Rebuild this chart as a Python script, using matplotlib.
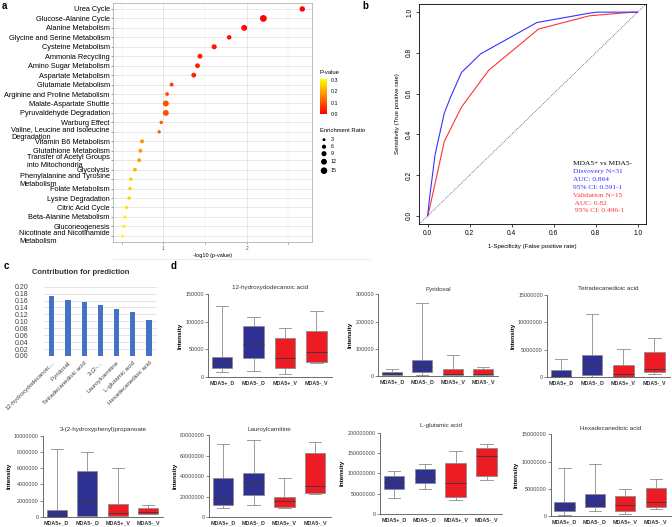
import numpy as np
import matplotlib.pyplot as plt
from matplotlib.colors import LinearSegmentedColormap, Normalize
from matplotlib.ticker import FuncFormatter

W, H = 672, 527
plt.rcParams['font.family'] = ['Liberation Sans', 'DejaVu Sans']

# ---- panel a: pathway enrichment ----
pathways = ["Urea Cycle", "Glucose-Alanine Cycle", "Alanine Metabolism",
            "Glycine and Serine Metabolism", "Cysteine Metabolism", "Ammonia Recycling",
            "Amino Sugar Metabolism", "Aspartate Metabolism", "Glutamate Metabolism",
            "Arginine and Proline Metabolism", "Malate-Aspartate Shuttle",
            "Pyruvaldehyde Degradation", "Warburg Effect",
            "Valine, Leucine and Isoleucine\nDegradation", "Vitamin B6 Metabolism",
            "Glutathione Metabolism", "Transfer of Acetyl Groups\ninto Mitochondria",
            "Glycolysis", "Phenylalanine and Tyrosine\nMetabolism", "Folate Metabolism",
            "Lysine Degradation", "Citric Acid Cycle", "Beta-Alanine Metabolism",
            "Gluconeogenesis", "Nicotinate and Nicotinamide\nMetabolism"]
neglog_p = [2.667, 2.20, 1.97, 1.79, 1.61, 1.44, 1.41, 1.365, 1.10, 1.045, 1.03, 1.03,
            0.975, 0.95, 0.745, 0.725, 0.71, 0.66, 0.61, 0.60, 0.59, 0.56, 0.54, 0.53, 0.51]
enrich = [10, 16, 12, 7, 9, 8.5, 8, 8, 5.5, 5, 12, 12, 4, 4, 5.5, 5.5, 5.5, 5, 4, 4, 4,
          4, 3.5, 3.5, 3]
size_legend = [3, 6, 9, 12, 15]

# ---- panel b: ROC ----
disc_fpr = [0, 0.008, 0.035, 0.079, 0.107, 0.161, 0.252, 0.52, 0.77, 0.81, 1.0]
disc_tpr = [0, 0.08, 0.30, 0.504, 0.578, 0.704, 0.795, 0.949, 0.995, 1.0, 1.0]
val_fpr = [0, 0.011, 0.079, 0.161, 0.29, 0.528, 0.77, 0.976, 1.0]
val_tpr = [0, 0.046, 0.365, 0.534, 0.714, 0.917, 0.982, 1.0, 1.0]
roc_text = ["MDA5+ vs MDA5-", "Disvovery N=31", "AUC: 0.864", "95% CI: 0.591-1",
            "Validation N=15", " AUC: 0.82", " 95% CI: 0.496-1"]
roc_text_col = ["black", "#3333FF", "#3333FF", "#3333FF", "#FF3333", "#FF3333", "#FF3333"]

# ---- panel c: contribution ----
features = ["12-hydroxydodecanoic...", "Pyridoxal", "Tetradecanedioic acid", "3-(2-...",
            "Lauroylcarnitine", "L-glutamic acid", "Hexadecanedioic acid"]
contrib = [0.173, 0.162, 0.156, 0.148, 0.135, 0.128, 0.103]

# ---- panel d: box plots, each row = [low, q1, median, q3, high] ----
groups = ["MDA5+_D", "MDA5-_D", "MDA5+_V", "MDA5-_V"]
hydroxydodecanoic = [[7900, 15200, 24900, 35800, 128700], [9700, 33400, 58900, 92900, 108100],
                     [4250, 15800, 33400, 70400, 88100], [24300, 26700, 44900, 82600, 119000]]
pyridoxal = [[500, 2400, 7300, 13500, 25700], [4900, 13500, 31800, 58800, 267000],
             [1000, 2400, 6100, 24500, 77100], [2400, 3700, 7300, 25700, 34300]]
tetradecanedioic = [[0, 60000, 300000, 1400000, 3280000], [120000, 430000, 2190000, 4000000, 11480000],
                    [60000, 120000, 550000, 2190000, 5220000], [550000, 970000, 1520000, 4550000, 7230000]]
hydroxyphenyl = [[0, 40000, 250000, 860000, 8400000], [40000, 120000, 1970000, 5610000, 7950000],
                 [40000, 80000, 490000, 1640000, 5980000], [330000, 410000, 660000, 1110000, 1520000]]
lauroylcarnitine = [[8.5e6, 11.4e6, 17.3e6, 37.9e6, 71.2e6], [12.1e6, 21.6e6, 34.6e6, 43.4e6, 75.4e6],
                    [8.5e6, 9.5e6, 15.3e6, 19.3e6, 38.5e6], [22.9e6, 23.8e6, 30.0e6, 63.0e6, 73.1e6]]
glutamic = [[38.5e6, 62.3e6, 77.9e6, 93.4e6, 107e6], [62.3e6, 77.0e6, 85.2e6, 110e6, 122e6],
            [34.4e6, 41e6, 75.4e6, 124.6e6, 154e6], [82.8e6, 92.6e6, 141.8e6, 163e6, 171e6]]
hexadecanedioic = [[0.30e6, 1.04e6, 1.77e6, 2.56e6, 8.78e6], [0.98e6, 1.71e6, 2.56e6, 4.15e6, 9.51e6],
                   [0.37e6, 0.91e6, 2.01e6, 3.72e6, 4.94e6], [1.34e6, 1.77e6, 2.56e6, 5.24e6, 6.77e6]]

fig = plt.figure(figsize=(W / 100, H / 100), dpi=100)


def px_axes(x0, y0, x1, y1):
    return fig.add_axes([x0 / W, 1 - y1 / H, (x1 - x0) / W, (y1 - y0) / H])


# overlay in pixel coordinates for free text and legends, kept on top
ov = px_axes(0, 0, W, H)
ov.set_xlim(0, W)
ov.set_ylim(H, 0)
ov.axis('off')
ov.set_zorder(10)

# panel a
cmap = LinearSegmentedColormap.from_list('ry', ['#FF0000', '#FF8000', '#FFFF00'])
norm = Normalize(0, 0.31)
pvals = 10 ** (-np.array(neglog_p))
rows = np.arange(len(pathways))
axa = px_axes(113.3, 3.3, 311.7, 241.5)
axa.set_xlim(0.40, 2.78)
axa.set_ylim(len(pathways) - 0.4, -0.6)
axa.set_xticks([1, 2])
axa.set_xticks([0.5, 1.5, 2.5], minor=True)
axa.set_yticks(rows)
axa.set_yticklabels(pathways)
for lab in axa.get_yticklabels():
    lab.set_multialignment('left')
axa.grid(which='major', color='#DEDEDE', lw=0.5)
axa.grid(which='minor', axis='x', color='#EBEBEB', lw=0.35)
axa.set_axisbelow(True)
axa.scatter(neglog_p, rows, s=np.array(enrich) * 1.5, c=pvals, cmap=cmap, norm=norm,
            edgecolors='none', zorder=3)
for s in axa.spines.values():
    s.set_color('#B3B3B3')
    s.set_linewidth(0.6)
axa.tick_params(axis='y', labelsize=5.3, length=1.5, width=0.4, color='#555555', pad=1)
axa.tick_params(axis='x', which='both', labelsize=3.5, length=1.5, width=0.4,
                color='#555555', labelcolor='#4D4D4D', pad=1.5)
axa.set_xlabel("-log10 (p-value)", fontsize=4, labelpad=2)

# colour legend
cax = px_axes(320, 79, 327, 114)
grad = np.linspace(0, 0.31, 100).reshape(-1, 1)
cax.imshow(grad, cmap=cmap, norm=norm, aspect='auto', origin='lower', extent=[0, 1, 0, 0.31])
cax.set_xticks([])
cax.yaxis.tick_right()
cax.set_yticks([0, 0.1, 0.2, 0.3])
cax.set_yticklabels(["0.0", "0.1", "0.2", "0.3"])
cax.tick_params(axis='y', labelsize=3.8, length=1.5, width=0.4, color='white', pad=1.5)
for s in cax.spines.values():
    s.set_visible(False)
ov.text(320, 72.5, "P-value", fontsize=4.2, va='center')
ov.text(320, 130, "Enrichment Ratio", fontsize=4.2, va='center')
leg_y = [139.7, 146.7, 153.7, 161.7, 170.7]
ov.scatter([324] * 5, leg_y, s=np.array(size_legend) * 1.5, color='black', edgecolors='none')
for yy, r in zip(leg_y, size_legend):
    ov.text(331, yy, str(r), fontsize=3.8, va='center')
ov.plot([113, 370], [259.3, 259.3], color='#E8E8E8', lw=0.6)

# panel b
axb = px_axes(419.3, 4, 646, 224)
axb.set_xlim(-0.04, 1.04)
axb.set_ylim(-0.04, 1.04)
axb.axline((0, 0), (1, 1), color='#333333', lw=0.5, ls=(0, (1.2, 1.5)))
axb.plot(val_fpr, val_tpr, color='#FF3333', lw=0.8)
axb.plot(disc_fpr, disc_tpr, color='#3333FF', lw=0.8)
ticks = np.arange(0, 1.01, 0.2)
axb.set_xticks(ticks)
axb.set_yticks(ticks)
axb.set_xticklabels([f"{t:.1f}" for t in ticks])
axb.set_yticklabels([f"{t:.1f}" for t in ticks], rotation=90, va='center')
axb.tick_params(labelsize=4.8, length=2.5, width=0.5, pad=2)
for s in axb.spines.values():
    s.set_linewidth(0.6)
axb.set_xlabel("1-Specificity (False positive rate)", fontsize=4.4, labelpad=5)
axb.set_ylabel("Sensitivity (True positive rate)", fontsize=4.4, labelpad=4)
for i, (t, c) in enumerate(zip(roc_text, roc_text_col)):
    ov.text(573, 163.3 + i * 7.95, t, color=c, fontsize=5.3, va='center',
            family=['Liberation Serif', 'DejaVu Serif'])

# panel c
axc = px_axes(43.6, 286.7, 157.1, 356)
xc = np.arange(len(features))
axc.bar(xc, contrib, width=0.32, color='#4472C4', zorder=3)
axc.set_xlim(-0.5, len(features) - 0.5)
axc.set_ylim(0, 0.2)
axc.set_yticks(np.arange(0, 0.201, 0.02))
axc.yaxis.set_major_formatter(FuncFormatter(lambda v, _: f"{v:.2f}"))
axc.grid(axis='y', color='#D9D9D9', lw=0.5)
for s in axc.spines.values():
    s.set_visible(False)
axc.set_xticks(xc)
axc.set_xticklabels(features, rotation=45, ha='right', rotation_mode='anchor')
axc.tick_params(axis='y', labelsize=5, length=0, pad=11, labelcolor='#404040')
axc.tick_params(axis='x', labelsize=4.4, length=0, pad=3, labelcolor='#404040')
ov.text(81, 273, "Contribution for prediction", fontsize=5.5, fontweight='bold',
        ha='center', va='center', color='#333333')

# panel letters
for x, y, t in [(2, 6, 'a'), (362, 6, 'b'), (4, 266, 'c'), (171, 266, 'd')]:
    ov.text(x, y, t, fontsize=7, fontweight='bold', va='center')

# panel d
box_colors = ['#2E3192', '#2E3192', '#ED1C24', '#ED1C24']


def box_panel(rect, title, title_y, data, ymax, ystep):
    ax = px_axes(*rect)
    stats = [dict(whislo=d[0], q1=d[1], med=d[2], q3=d[3], whishi=d[4], fliers=[])
             for d in data]
    bp = ax.bxp(stats, positions=range(4), widths=0.66, patch_artist=True, showfliers=False,
                capwidths=0.4,
                boxprops=dict(edgecolor='#8C8C8C', lw=0.6),
                whiskerprops=dict(color='#8C8C8C', lw=0.6),
                capprops=dict(color='#8C8C8C', lw=0.6),
                medianprops=dict(color='#3A3A3A', lw=0.6))
    for patch, c in zip(bp['boxes'], box_colors):
        patch.set_facecolor(c)
    ax.set_xlim(-0.45, 3.5)
    ax.set_ylim(0, ymax)
    ax.set_yticks(np.arange(0, ymax + 1, ystep))
    ax.yaxis.set_major_formatter(FuncFormatter(lambda v, _: f"{int(round(v))}"))
    ax.set_xticks(range(4))
    ax.set_xticklabels(groups, fontweight='bold')
    for s in ['top', 'right']:
        ax.spines[s].set_visible(False)
    for s in ['left', 'bottom']:
        ax.spines[s].set_color('#555555')
        ax.spines[s].set_linewidth(0.6)
    ax.tick_params(axis='y', labelsize=3.9, length=2, width=0.5, color='#555555',
                   labelcolor='#444444', pad=1)
    ax.tick_params(axis='x', labelsize=3.9, length=0, pad=2.5, labelcolor='#333333')
    ax.set_ylabel("Intensity", fontsize=4.6, fontweight='bold', labelpad=2)
    ov.text((rect[0] + rect[2]) / 2, title_y, title, fontsize=4.5, ha='center', va='center',
            color='#333333')


box_panel((208, 294.3, 332, 376.7), "12-hydroxydodecanoic acid", 288, hydroxydodecanoic, 150000, 50000)
box_panel((378.4, 294.3, 498.2, 376), "Pyridoxal", 289, pyridoxal, 300000, 100000)
box_panel((547, 295, 670, 377.3), "Tetradecanedioic acid", 288, tetradecanedioic, 15000000, 5000000)
box_panel((43, 435.7, 163.4, 517), "3-(2-hydroxyphenyl)propanoate", 429, hydroxyphenyl, 10000000, 2000000)
box_panel((209, 435.3, 330.6, 517), "Lauroylcarnitine", 429, lauroylcarnitine, 80000000, 20000000)
box_panel((380, 432.7, 502, 514), "L-glutamic acid", 425, glutamic, 200000000, 50000000)
box_panel((550.8, 434.3, 671, 516.3), "Hexadecanedioic acid", 428.3, hexadecanedioic, 15000000, 5000000)

fig.savefig("out.png", dpi=100)
